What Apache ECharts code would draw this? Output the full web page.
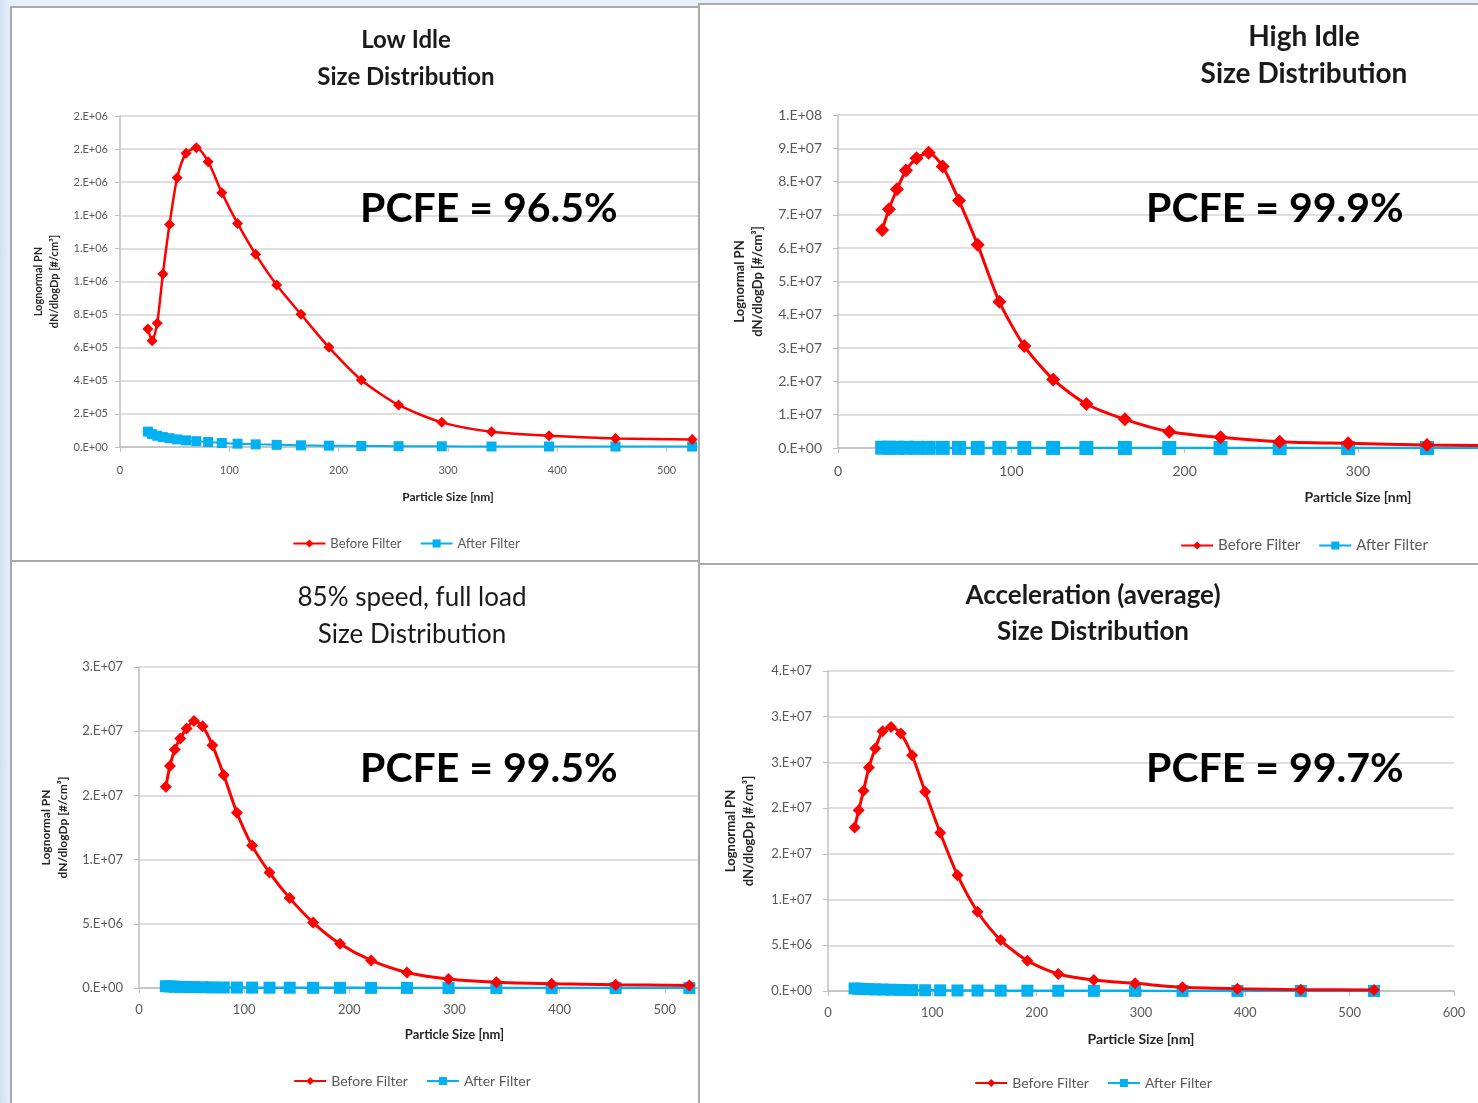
<!DOCTYPE html>
<html>
<head>
<meta charset="utf-8">
<script src="https://cdn.jsdelivr.net/npm/echarts@6/dist/echarts.min.js"></script>
<style>
  html, body { margin: 0; padding: 0; }
  body { width: 1478px; height: 1103px; overflow: hidden; position: relative;
         background: linear-gradient(90deg, #cfe1f3 0px, #e6f0fa 10px, #e6f0fa 100%); }
  .panel { position: absolute; background: #fff; }
  .panel .chart { position: absolute; left: 0; top: 0; width: 100%; height: 100%; }
  .panel .frame { position: absolute; left: 0; top: 0; right: 0; bottom: 0;
                  border: 2px solid #a9a9a9; pointer-events: none; }
</style>
</head>
<body>
<div class="panel" id="p0" style="left:10px;top:6px;width:792px;height:556px;z-index:1"><div class="chart" id="c0"></div><div class="frame"></div></div>
<div class="panel" id="p2" style="left:10px;top:560px;width:804px;height:545px;z-index:1"><div class="chart" id="c2"></div><div class="frame"></div></div>
<div class="panel" id="p1" style="left:698px;top:3px;width:1212px;height:562px;z-index:2"><div class="chart" id="c1"></div><div class="frame"></div></div>
<div class="panel" id="p3" style="left:698px;top:563px;width:790px;height:542px;z-index:2"><div class="chart" id="c3"></div><div class="frame"></div></div>
<script>
// particle size bins [nm]
const sizes = [25.5, 29.4, 34.0, 39.2, 45.3, 52.3, 60.4, 69.8, 80.6, 93.1, 107.5,
  124.1, 143.3, 165.5, 191.1, 220.7, 254.8, 294.3, 339.8, 392.4, 453.2, 523.3]

// Low Idle
const lowIdleBefore = [7.13e5, 6.42e5, 7.47e5, 1.045e6, 1.345e6, 1.627e6, 1.775e6, 1.808e6, 1.724e6,
  1.537e6, 1.351e6, 1.164e6, 9.79e5, 8.02e5, 6.02e5, 4.05e5, 2.54e5, 1.49e5, 9.2e4, 6.8e4, 5.2e4, 4.6e4]
const lowIdleAfter = [9.3e4, 7.8e4, 6.8e4, 6.0e4, 5.3e4, 4.6e4, 4.0e4, 3.5e4, 3.0e4, 2.4e4, 2.0e4,
  1.6e4, 1.3e4, 1.0e4, 8e3, 6e3, 5e3, 4e3, 3e3, 3e3, 3e3, 3e3]

// High Idle
const highIdleBefore = [6.55e7, 7.17e7, 7.77e7, 8.33e7, 8.7e7, 8.87e7, 8.45e7, 7.43e7, 6.1e7, 4.39e7,
  3.06e7, 2.06e7, 1.32e7, 8.6e6, 4.9e6, 3.2e6, 1.9e6, 1.4e6, 9e5, 6e5, 4e5, 3e5]
const highIdleAfter = [9e4, 8e4, 7e4, 6e4, 5e4, 4.5e4, 4e4, 3.5e4, 3e4, 2.5e4, 2e4, 1.7e4, 1.4e4,
  1.1e4, 9e3, 7e3, 5e3, 4e3, 3e3, 2e3, 2e3, 2e3]

// 85% speed, full load
const fullLoadBefore = [1.567e7, 1.728e7, 1.858e7, 1.943e7, 2.021e7, 2.08e7, 2.039e7, 1.891e7, 1.658e7,
  1.365e7, 1.109e7, 8.99e6, 7.0e6, 5.1e6, 3.44e6, 2.15e6, 1.21e6, 7.0e5, 4.4e5, 3.3e5, 2.6e5, 2.0e5]
const fullLoadAfter = [1.4e5, 1.2e5, 1.05e5, 9e4, 8e4, 7e4, 6e4, 5e4, 4.2e4, 3.5e4, 3e4, 2.5e4, 2e4,
  1.6e4, 1.3e4, 1e4, 8e3, 6e3, 5e3, 4e3, 3e3, 3e3]

// Acceleration (average)
const accelBefore = [1.789e7, 1.978e7, 2.189e7, 2.444e7, 2.652e7, 2.841e7, 2.888e7, 2.816e7, 2.579e7,
  2.178e7, 1.73e7, 1.267e7, 8.67e6, 5.57e6, 3.31e6, 1.86e6, 1.2e6, 8.4e5, 4.0e5, 2.5e5, 1.5e5, 1.0e5]
const accelAfter = [2.8e5, 2.5e5, 2.2e5, 2.0e5, 1.8e5, 1.6e5, 1.4e5, 1.2e5, 1.0e5, 8.5e4, 7e4, 6e4,
  5e4, 4e4, 3.2e4, 2.5e4, 2e4, 1.5e4, 1.2e4, 1e4, 8e3, 7e3]

const titles = ['Low Idle', 'High Idle', '85% speed, full load', 'Acceleration (average)']
const pcfe = ['PCFE = 96.5%', 'PCFE = 99.9%', 'PCFE = 99.5%', 'PCFE = 99.7%']
const yMax = [2e6, 1e8, 2.5e7, 3.5e7]
const yStep = [2e5, 1e7, 5e6, 5e6]
const xMax = 600
const xStep = 100
const seriesNames = ['Before Filter', 'After Filter']
const before = [lowIdleBefore, highIdleBefore, fullLoadBefore, accelBefore]
const after = [lowIdleAfter, highIdleAfter, fullLoadAfter, accelAfter]

const FONT = 'Lato, "Open Sans", sans-serif'

// excel-like "0.E+00" format
const sciLabel = (v) => {
  if (v === 0) return '0.E+00'
  const [m, e] = v.toExponential(0).split('e')
  const n = parseInt(e, 10)
  return m + '.E' + (n < 0 ? '-' : '+') + String(Math.abs(n)).padStart(2, '0')
}

// layout of each pasted chart (pixels inside its panel)
const layouts = [
  { w: 792, grid: [110, 110, 656, 331], titleY: [34, 71], titleSize: 24, titleWeight: 'bold',
    pcfe: [350, 203], pcfeSize: 41, tick: 11, yMargin: 12, xMargin: 18, nameSize: 11, yGap: 58, xGap: 44,
    legendTop: 526, legendSize: 13, line: 2.5, diamond: 11, square: 10 },
  { w: 1212, grid: [140, 112, 1040, 333], titleY: [34, 71], titleSize: 28, titleWeight: 'bold',
    pcfe: [448, 206], pcfeSize: 41, tick: 14, yMargin: 16, xMargin: 16, nameSize: 13, yGap: 70, xGap: 42,
    legendTop: 530, legendSize: 15, line: 3, diamond: 14, square: 14 },
  { w: 804, grid: [129, 107, 631, 321], titleY: [38, 75], titleSize: 26, titleWeight: 'normal',
    pcfe: [350, 209], pcfeSize: 41, tick: 13, yMargin: 16, xMargin: 15, nameSize: 12, yGap: 64, xGap: 40,
    legendTop: 509, legendSize: 14, line: 3, diamond: 12, square: 12 },
  { w: 790, grid: [130, 108, 626, 320], titleY: [33, 69], titleSize: 26, titleWeight: 'bold',
    pcfe: [448, 206], pcfeSize: 41, tick: 13, yMargin: 16, xMargin: 15, nameSize: 13, yGap: 70, xGap: 41,
    legendTop: 508, legendSize: 14, line: 3, diamond: 12, square: 12 },
]

const buildOption = (i) => {
  const L = layouts[i]
  const [gl, gt, gw, gh] = L.grid
  const titleText = (text, y) => ({
    type: 'text',
    x: L.w / 2,
    y: y,
    z: 100,
    style: { text: text, fontFamily: FONT, fontSize: L.titleSize, fontWeight: L.titleWeight,
      fill: '#1a1a1a', align: 'center', verticalAlign: 'middle' },
  })
  return {
    animation: false,
    textStyle: { fontFamily: FONT },
    graphic: [
      titleText(titles[i], L.titleY[0]),
      titleText('Size Distribution', L.titleY[1]),
      {
        type: 'text',
        x: L.pcfe[0],
        y: L.pcfe[1],
        z: 100,
        style: { text: pcfe[i], fontFamily: FONT, fontSize: L.pcfeSize, fontWeight: 'bold', fill: '#000',
          align: 'left', verticalAlign: 'middle' },
      },
    ],
    legend: {
      data: seriesNames,
      left: 'center',
      top: L.legendTop,
      itemWidth: 32,
      itemHeight: 10,
      itemGap: 18,
      textStyle: { fontFamily: FONT, fontSize: L.legendSize, color: '#595959' },
    },
    grid: { left: gl, top: gt, width: gw, height: gh, containLabel: false },
    xAxis: {
      type: 'value',
      min: 0,
      max: xMax,
      interval: xStep,
      name: 'Particle Size [nm]',
      nameLocation: 'middle',
      nameGap: L.xGap,
      nameTextStyle: { fontFamily: FONT, fontSize: L.nameSize + 1, fontWeight: 'bold', color: '#262626' },
      axisLine: { show: true, lineStyle: { color: '#bfbfbf', width: 1.5 } },
      axisTick: { show: true, length: 5, lineStyle: { color: '#bfbfbf' } },
      axisLabel: { fontSize: L.tick, color: '#595959', margin: L.xMargin },
      splitLine: { show: false },
    },
    yAxis: {
      type: 'value',
      min: 0,
      max: yMax[i],
      interval: yStep[i],
      name: 'Lognormal PN\ndN/dlogDp [#/cm³]',
      nameLocation: 'middle',
      nameRotate: 90,
      nameGap: L.yGap,
      nameTextStyle: { fontFamily: FONT, fontSize: L.nameSize, fontWeight: 'bold', color: '#262626',
        lineHeight: L.nameSize + 5 },
      axisLine: { show: true, lineStyle: { color: '#bfbfbf', width: 1.5 } },
      axisTick: { show: true, length: 5, lineStyle: { color: '#bfbfbf' } },
      axisLabel: { fontSize: L.tick, color: '#595959', margin: L.yMargin, formatter: sciLabel },
      splitLine: { show: true, lineStyle: { color: '#d4d4d4', width: 1.5 } },
    },
    series: [
      {
        name: seriesNames[0],
        type: 'line',
        data: sizes.map((s, k) => [s, before[i][k]]),
        smooth: 0.25,
        symbol: 'diamond',
        symbolSize: L.diamond,
        lineStyle: { color: '#ff0000', width: L.line },
        itemStyle: { color: '#ff0000' },
        z: 3,
      },
      {
        name: seriesNames[1],
        type: 'line',
        data: sizes.map((s, k) => [s, after[i][k]]),
        smooth: 0.25,
        symbol: 'rect',
        symbolSize: L.square,
        lineStyle: { color: '#00b0f0', width: L.line - 0.5 },
        itemStyle: { color: '#00b0f0' },
        z: 2,
      },
    ],
  }
}

for (let i = 0; i < 4; i++) {
  const chart = echarts.init(document.getElementById('c' + i))
  chart.setOption(buildOption(i))
}
</script>
</body>
</html>
